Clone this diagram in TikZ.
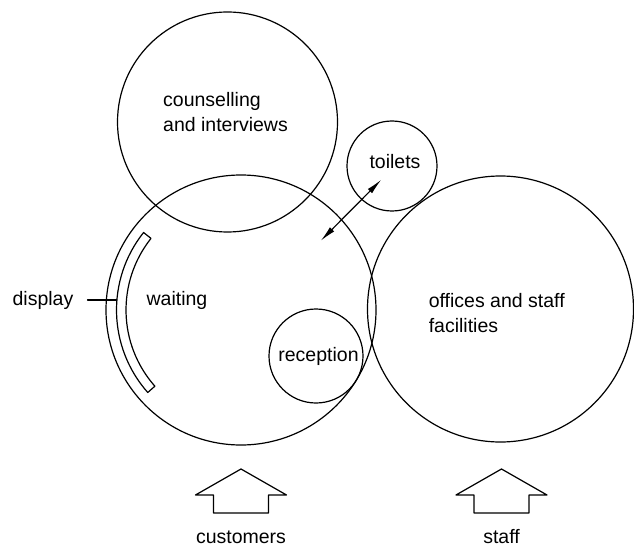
\documentclass[tikz,border=0pt]{standalone}
\usepackage{fontspec}
\setmainfont{Liberation Sans}
\usetikzlibrary{arrows.meta,calc}

\begin{document}
\begin{tikzpicture}[x=1pt, y=1pt, line cap=round, line join=round,
  room/.style={draw, circle, line width=1.2pt, inner sep=0pt},
  lbl/.style={font=\fontsize{19.5}{25}\selectfont, inner sep=0pt},
  >={Latex[length=16pt, width=6pt]}]
  \useasboundingbox (0,0) rectangle (634,547);

  % The five rooms
  \node[room, minimum size=220pt] (couns) at (227.5,425) {};
  \node[room, minimum size=270pt] (wait) at (241,237) {};
  \node[room, minimum size=90pt] (toil) at (392,381) {};
  \node[room, minimum size=266pt] (offi) at (500.5,238) {};
  \node[room, minimum size=94pt] (recep) at (316,191) {};

  % Room labels
  \node[lbl, align=left, anchor=west] (counslbl) at (163,435) {counselling\\and interviews};
  \node[lbl] (waitlbl) at (177,247) {waiting};
  \node[lbl] (toillbl) at (395,385) {toilets};
  \node[lbl, align=left, anchor=west] (offilbl) at (428.6,234) {offices and staff\\facilities};
  \node[lbl] (receplbl) at (318.5,191) {reception};

  % Display panel along the waiting room wall
  \draw[line width=1.2pt] ($(wait)+(141.5:124.5)$) arc (141.5:221.5:124.5)
    -- ($(wait)+(221.5:115)$) arc (221.5:141.5:115) -- cycle;
  \node[lbl] (displbl) at (43,247) {display};
  \coordinate (dispend) at (116.5,247);
  \draw[line width=1.2pt] (displbl.east) ++(14,0) coordinate (dispstart) -- (dispend);

  % Route between waiting and toilets
  \coordinate (wayin) at (320.7,306.2);
  \coordinate (wayout) at (381.3,367.3);
  \draw[<->, line width=1.2pt] (wayin) -- (wayout);

  % Entrances
  \foreach \cx/\txt in {241/customers, 501.5/staff} {
    \draw[line width=1.2pt] (\cx,78) -- (\cx+45.5,52) -- (\cx+27.5,52) -- (\cx+27.5,34)
      -- (\cx-27.5,34) -- (\cx-27.5,52) -- (\cx-45.5,52) -- cycle;
    \node[lbl] (\txt) at (\cx,10) {\txt};
  }
\end{tikzpicture}
\end{document}
